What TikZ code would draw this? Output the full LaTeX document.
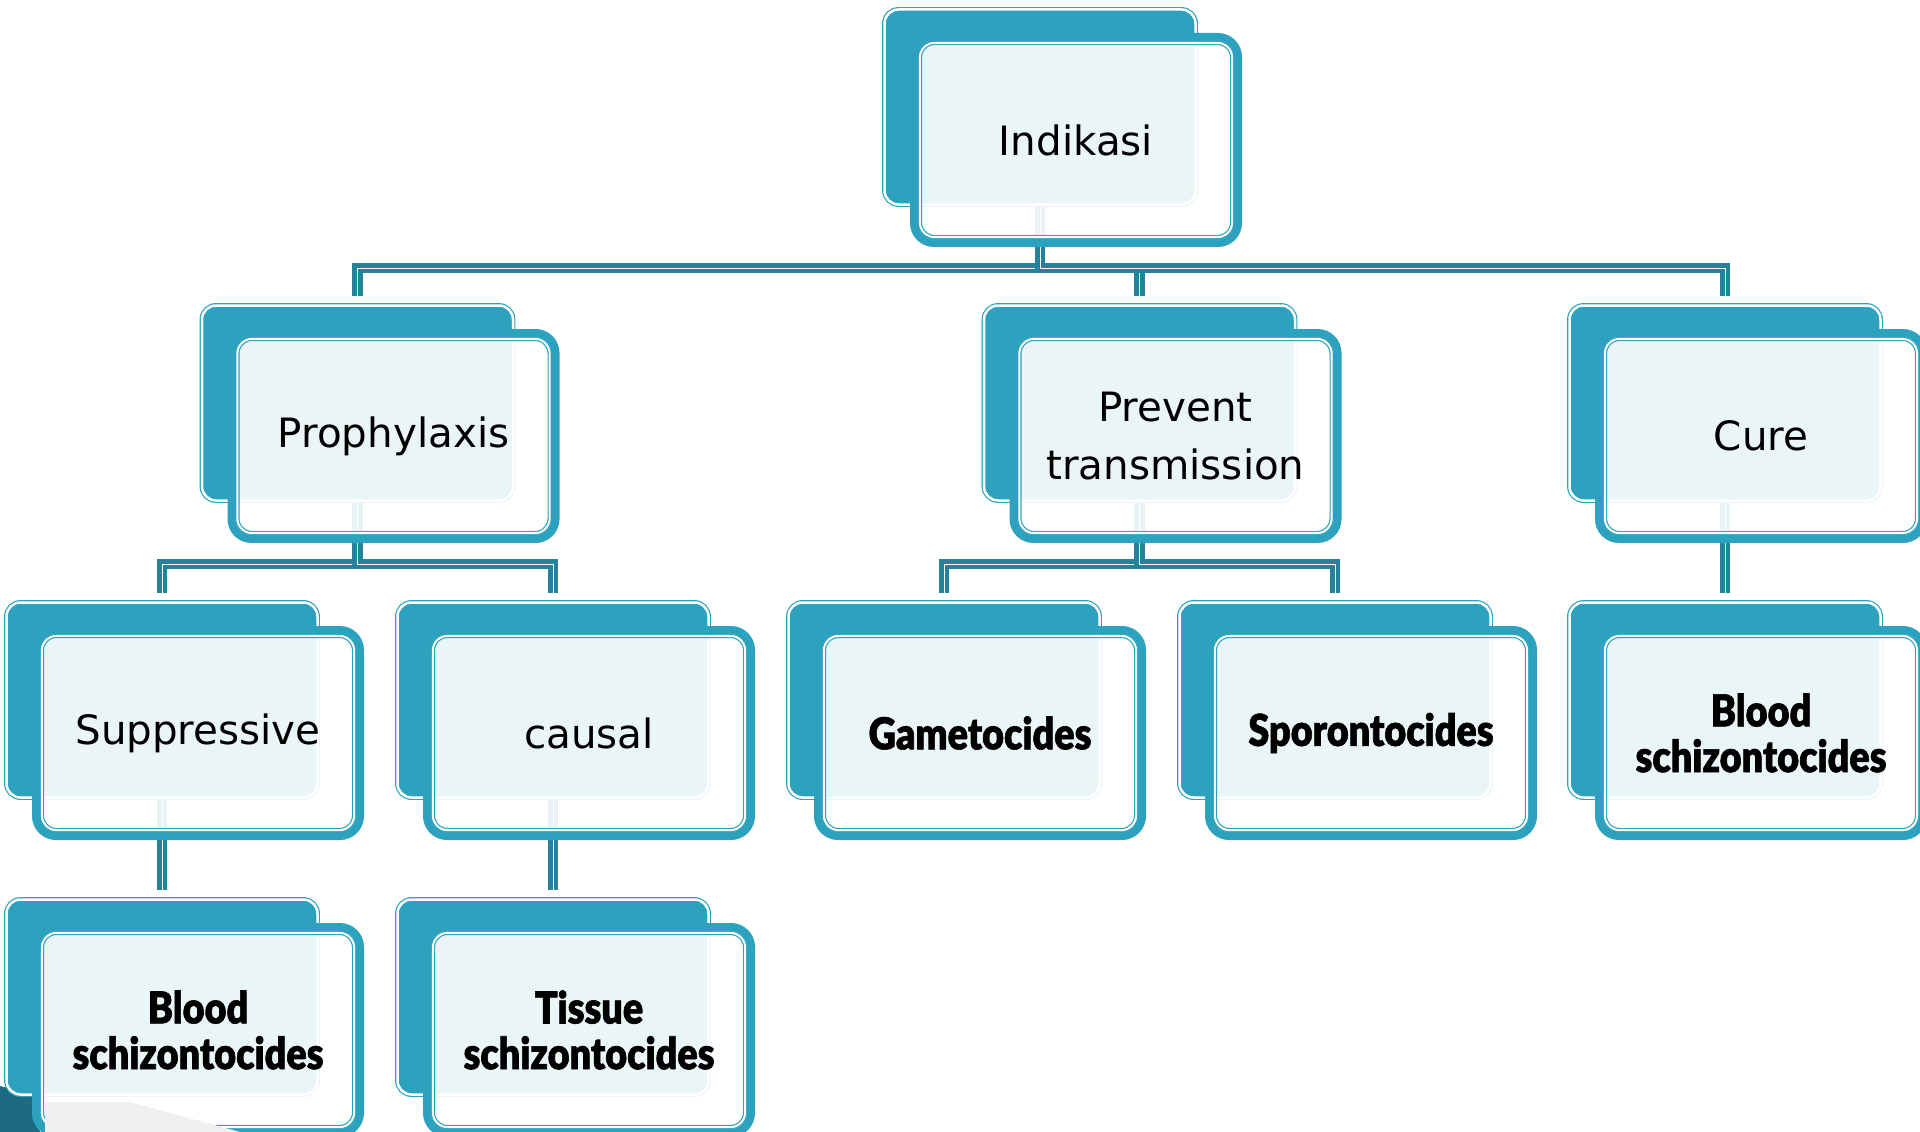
\documentclass[tikz,border=0pt]{standalone}
\usepackage{fontspec}
\setmainfont{DejaVu Sans}
\newfontfamily\heavyfont{Lato Black}[FakeStretch=0.86, FakeBold=1.4]
\usepackage{tikz}
\usetikzlibrary{positioning, calc, backgrounds}
\definecolor{boxTeal}{HTML}{2CA2BF}
\definecolor{linkTeal}{HTML}{24829A}
\definecolor{cornerTeal}{HTML}{1D6B82}
\newlength{\px}
\setlength{\px}{0.02cm}
\tikzset{
  backbox/.style={rectangle, rounded corners=14\px, fill=boxTeal, draw=boxTeal,
    double=white, line width=1.2\px, double distance=2.5\px,
    minimum width=311\px, minimum height=195\px, inner sep=0pt},
  frontbox/.style={rectangle, rounded corners=20\px, fill=white, fill opacity=0.9,
    text opacity=1, draw=boxTeal, line width=8\px, minimum width=324\px,
    minimum height=206\px, align=center, inner sep=0pt,
    font=\fontsize{23}{32.6}\selectfont},
  frontrim/.style={rectangle, rounded corners=15\px, draw=boxTeal, double=white,
    line width=1.2\px, double distance=2\px, minimum width=312.4\px,
    minimum height=194.4\px, inner sep=0pt},
  heavy/.style={font=\heavyfont\fontsize{25}{26}\selectfont},
  link/.style={draw=linkTeal, line width=2.7pt, double=white, double distance=0.5pt},
}
\newcommand{\tile}[5][]{%
  \node[backbox] (#2-b) at (#3,#4) {};
  \node[frontbox, #1] (#2) at ([shift={(36,33)}]#2-b.center) {#5};
  \node[frontrim] (#2-r) at (#2.center) {};}

\begin{document}
\begin{tikzpicture}[x=0.02cm, y=-0.02cm]
  \useasboundingbox (0,0) rectangle (1920,1132);
  \clip (0,0) rectangle (1920,1132);
  % top level
  \tile{ind}{1040}{107}{Indikasi}
  % second level
  \tile{pro}{357.5}{403}{Prophylaxis}
  \tile{pre}{1139.5}{403}{Prevent\\transmission}
  \tile{cur}{1725}{403}{Cure}
  % third level
  \tile{sup}{162}{700}{Suppressive}
  \tile{cau}{553}{700}{causal}
  \tile[heavy]{gam}{944}{700}{Gametocides}
  \tile[heavy]{spo}{1335}{700}{Sporontocides}
  \tile[heavy]{bsc}{1725}{700}{Blood\\schizontocides}
  % fourth level
  \tile[heavy]{bsz}{162}{997}{Blood\\schizontocides}
  \tile[heavy]{tis}{553}{997}{Tissue\\schizontocides}
  % slide decoration seen at the corner
  \fill[black!6] (45,1102) -- (130,1102) -- (240,1132) -- (45,1132) -- cycle;
  \begin{scope}[on background layer]
    \fill[cornerTeal] (0,1086) -- (40,1096) -- (40,1132) -- (0,1132) -- cycle;
    % elbow connectors
    \foreach \c in {pro,pre,cur}
      \draw[link, shorten >=9\px] (ind-b.south) -- ++(0,63) -| (\c-b.north);
    \foreach \c in {sup,cau}
      \draw[link, shorten >=9\px] (pro-b.south) -- ++(0,63) -| (\c-b.north);
    \foreach \c in {gam,spo}
      \draw[link, shorten >=9\px] (pre-b.south) -- ++(0,63) -| (\c-b.north);
    \draw[link, shorten >=9\px] (cur-b.south) -- (bsc-b.north);
    \draw[link, shorten >=9\px] (sup-b.south) -- (bsz-b.north);
    \draw[link, shorten >=9\px] (cau-b.south) -- (tis-b.north);
  \end{scope}
\end{tikzpicture}
\end{document}
